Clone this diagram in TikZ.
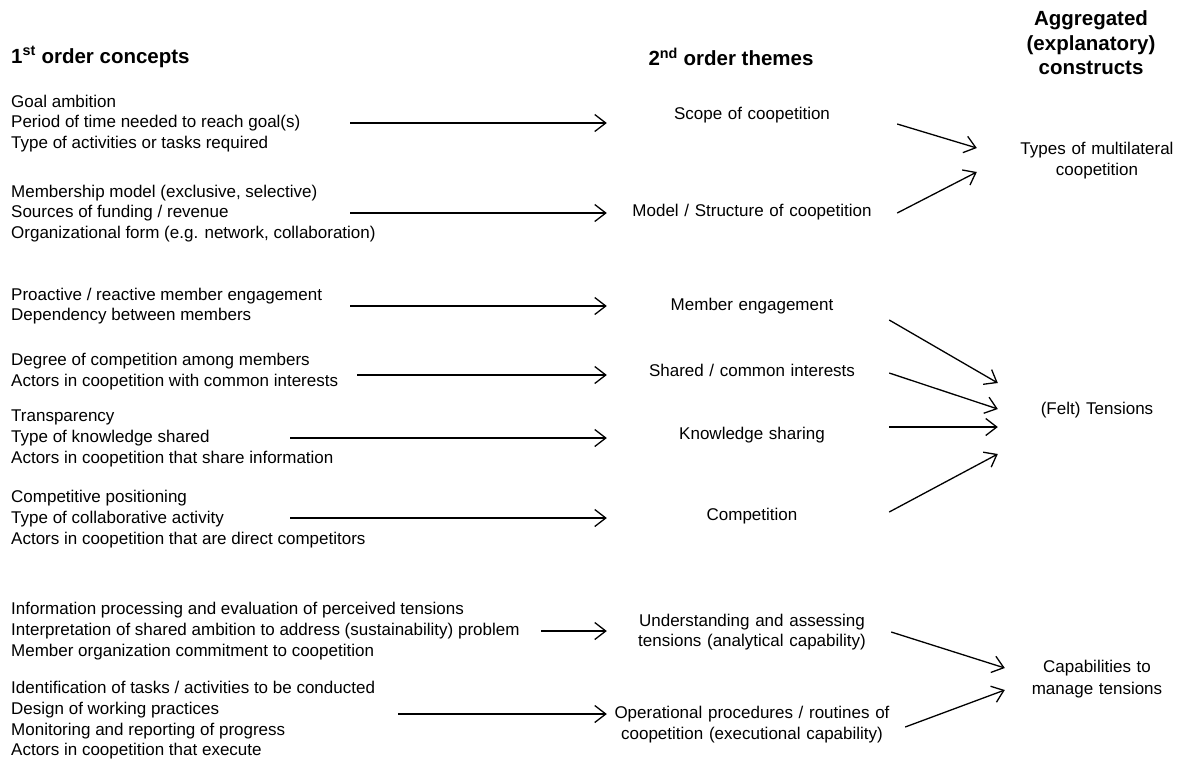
\documentclass[tikz,border=0pt]{standalone}
\usepackage{fontspec}
\setmainfont{Liberation Sans}
\usetikzlibrary{arrows.meta}
\tikzstyle{concept}=[anchor=west, align=left, inner sep=0pt, font=\fontsize{17}{20.7}\selectfont]
\tikzstyle{theme}=[align=center, inner sep=0pt, text width=290pt, font=\fontsize{17}{20.7}\selectfont]
\tikzstyle{construct}=[align=center, inner sep=0pt, font=\fontsize{17}{21.5}\selectfont]
\tikzstyle{heading}=[inner sep=0pt, font=\bfseries\fontsize{20.5}{24.5}\selectfont]
\tikzstyle{arrow}=[line width=1.3pt, -{Straight Barb[length=11pt,width=17pt]}]

\begin{document}
\begin{tikzpicture}[x=1pt, y=-1pt]
            \useasboundingbox (0,0) rectangle (1182,764);
            % Encabezados
            \node[heading, anchor=west] (h1) at (11,57) {1\textsuperscript{st} order concepts};
            \node[heading] (h2) at (731,57) {2\textsuperscript{nd} order themes};
            \node[heading, align=center] (h3) at (1091,43) {Aggregated\\(explanatory)\\constructs};
            % Conceptos de primer orden
            \node[concept] (c1) at (11,123.5) {Goal ambition\\Period of time needed to reach goal(s)\\Type of activities or tasks required};
            \node[concept] (c2) at (11,213.5) {Membership model (exclusive, selective)\\Sources of funding / revenue\\Organizational form (e.g. network, collaboration)};
            \node[concept] (c3) at (11,306) {Proactive / reactive member engagement\\Dependency between members};
            \node[concept] (c4) at (11,371.5) {Degree of competition among members\\Actors in coopetition with common interests};
            \node[concept] (c5) at (11,438.5) {Transparency\\Type of knowledge shared\\Actors in coopetition that share information};
            \node[concept] (c6) at (11,519) {Competitive positioning\\Type of collaborative activity\\Actors in coopetition that are direct competitors};
            \node[concept] (c7) at (11,631) {Information processing and evaluation of perceived tensions\\Interpretation of shared ambition to address (sustainability) problem\\Member organization commitment to coopetition};
            \node[concept] (c8) at (11,720.5) {Identification of tasks / activities to be conducted\\Design of working practices\\Monitoring and reporting of progress\\Actors in coopetition that execute};
            % Temas de segundo orden
            \node[theme] (t1) at (752,115) {Scope of coopetition};
            \node[theme] (t2) at (752,212) {Model / Structure of coopetition};
            \node[theme] (t3) at (752,306) {Member engagement};
            \node[theme] (t4) at (752,370) {Shared / common interests};
            \node[theme] (t5) at (752,435) {Knowledge sharing};
            \node[theme] (t6) at (752,516) {Competition};
            \node[theme] (t7) at (752,632) {Understanding and assessing\\tensions (analytical capability)};
            \node[theme] (t8) at (752,724.5) {Operational procedures / routines of\\coopetition (executional capability)};
            % Constructos agregados
            \node[construct, text width=240pt] (ty) at (1097,160.5) {Types of multilateral\\coopetition};
            \node[construct, text width=198pt] (te) at (1097,410) {(Felt) Tensions};
            \node[construct, text width=184pt] (tc) at (1097,679) {Capabilities to\\manage tensions};
            % Flechas
            \coordinate (a1) at (350,123);
            \coordinate (a2) at (350,213);
            \coordinate (a3) at (350,306);
            \coordinate (a4) at (357,375);
            \coordinate (a5) at (290,438);
            \coordinate (a6) at (290,518);
            \coordinate (a7) at (541,631);
            \coordinate (a8) at (398,714);
            \draw[arrow] (a1) -- (a1 -| t1.west);
            \draw[arrow] (a2) -- (a2 -| t2.west);
            \draw[arrow] (a3) -- (a3 -| t3.west);
            \draw[arrow] (a4) -- (a4 -| t4.west);
            \draw[arrow] (a5) -- (a5 -| t5.west);
            \draw[arrow] (a6) -- (a6 -| t6.west);
            \draw[arrow] (a7) -- (a7 -| t7.west);
            \draw[arrow] (a8) -- (a8 -| t8.west);
            \draw[arrow] ([shift={(0,9)}]t1.east) -- ([shift={(0,-12.5)}]ty.west);
            \draw[arrow] ([shift={(0,1)}]t2.east) -- ([shift={(0,11.5)}]ty.west);
            \draw[arrow] ([shift={(-8,14)}]t3.east) -- ([shift={(0,-27)}]te.west);
            \draw[arrow] ([shift={(-8,3)}]t4.east) -- ([shift={(0,-1)}]te.west);
            \draw[arrow] ([shift={(-8,-8)}]t5.east) -- ([shift={(0,17)}]te.west);
            \draw[arrow] ([shift={(-8,-4)}]t6.east) -- ([shift={(0,44)}]te.west);
            \draw[arrow] ([shift={(-6,0)}]t7.east) -- ([shift={(0,-11)}]tc.west);
            \draw[arrow] ([shift={(8,2.5)}]t8.east) -- ([shift={(0,11)}]tc.west);
        \end{tikzpicture}
\end{document}
